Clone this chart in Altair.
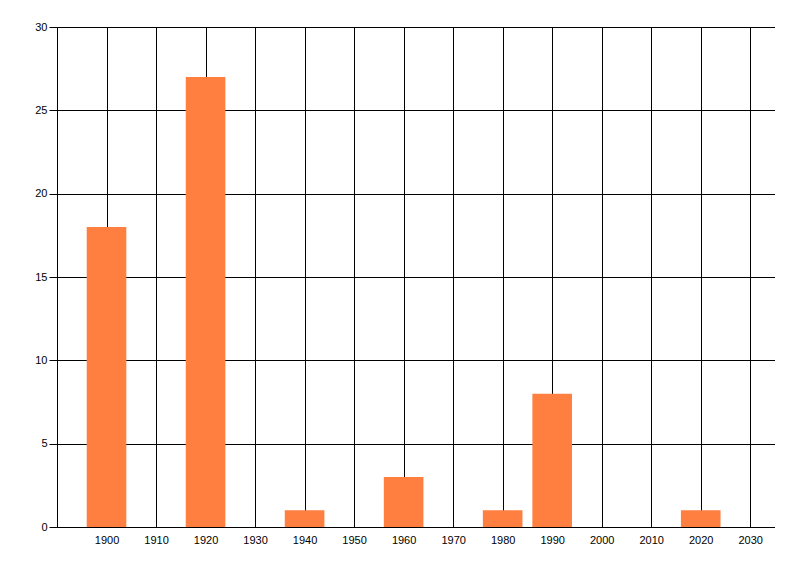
import altair as alt
import pandas as pd

years = [1900, 1920, 1940, 1960, 1980, 1990, 2020]
counts = [18, 27, 1, 3, 1, 8, 1]
x_ticks = list(range(1900, 2031, 10))
y_ticks = [0, 5, 10, 15, 20, 25, 30]

df = pd.DataFrame({"year": years, "count": counts})
df["x0"] = df["year"] - 4
df["x1"] = df["year"] + 4
df["base"] = 0

chart = alt.Chart(df).mark_bar(color="#FF7F40").encode(
    x=alt.X("x0:Q", scale=alt.Scale(domain=[1890, 2035], nice=False, zero=False),
            axis=alt.Axis(values=x_ticks, format="d", title=None, grid=True,
                          gridColor="black", gridOpacity=1, gridWidth=1,
                          domainColor="black", domainWidth=1, ticks=False,
                          labelPadding=7, labelFont="Liberation Sans",
                          labelFontSize=11, labelColor="black")),
    x2="x1:Q",
    y=alt.Y("count:Q", scale=alt.Scale(domain=[0, 30], nice=False),
            axis=alt.Axis(values=y_ticks, title=None, grid=True,
                          gridColor="black", gridOpacity=1, gridWidth=1,
                          domainColor="black", domainWidth=1,
                          tickColor="black", tickSize=8, tickWidth=1,
                          labelPadding=2, labelFont="Liberation Sans",
                          labelFontSize=11, labelColor="black")),
    y2="base:Q",
).properties(
    width=718, height=500,
    autosize=alt.AutoSizeParams(type="none"),
    padding={"left": 49, "top": 19, "right": 0, "bottom": 30},
).configure_view(stroke=None).configure(background="white")

chart.save("out.html", embed_options={"renderer": "svg", "actions": False})
